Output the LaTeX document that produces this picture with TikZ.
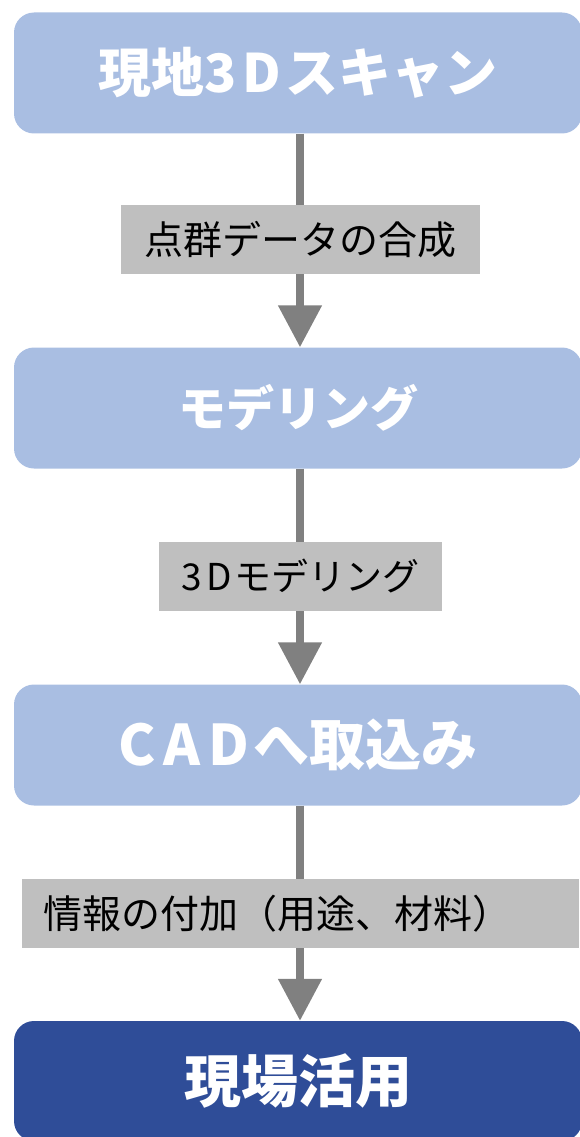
\documentclass[tikz,border=0pt]{standalone}
\usepackage{fontspec}
\newfontfamily\jp{Noto Sans CJK JP}
\usetikzlibrary{arrows.meta}
\definecolor{boxblue}{HTML}{A9BEE2}
\definecolor{darkblue}{HTML}{2F4D98}
\definecolor{labelgray}{HTML}{BFBFBF}
\definecolor{arrowgray}{HTML}{808080}
\tikzset{
  stepbox/.style={draw=none, fill=boxblue, rounded corners=20pt, minimum width=568pt, minimum height=121pt, inner sep=0pt, text=white, font=\jp\bfseries\fontsize{53}{60}\selectfont},
  lastbox/.style={stepbox, fill=darkblue},
  labelbox/.style={fill=labelgray, minimum height=69pt, inner sep=0pt, text=black, font=\jp\fontsize{39}{44}\selectfont},
  flowarrow/.style={draw=arrowgray, line width=8pt, -{Triangle[width=42pt,length=42pt]}, arrowgray}
}
\begin{document}
\begin{tikzpicture}[x=1pt,y=-1pt]
\useasboundingbox (0,0) rectangle (579,1137);
\node[stepbox] (s1) at (298,73) {現地3\hspace{6pt}D\hspace{4pt}スキャン};
\node[stepbox, font=\jp\bfseries\fontsize{48}{56}\selectfont] (s2) at (298,408) {モデリング};
\node[stepbox, font=\jp\bfseries\fontsize{56}{62}\selectfont] (s3) at (298,745) {C\hspace{8pt}A\hspace{8pt}D\hspace{4pt}へ取込み};
\node[lastbox, minimum height=120pt, font=\jp\bfseries\fontsize{57}{62}\selectfont] (s4) at (298,1081) {現場活用};
\draw[flowarrow] (s1.south -| 300,0) -- (s2.north -| 300,0);
\draw[flowarrow] (s2.south -| 300,0) -- (s3.north -| 300,0);
\draw[flowarrow] (s3.south -| 300,0) -- (s4.north -| 300,0);
\node[labelbox, minimum width=359pt] (l1) at (300.5,239.5) {点群データの合成};
\node[labelbox, minimum width=283pt, text width=283pt, align=left, font=\jp\fontsize{37}{44}\selectfont] (l2) at (300.5,576.5) {\hspace*{22pt}3\hspace{5pt}D\hspace{3pt}モデリング};
\node[labelbox, minimum width=557pt, text width=557pt, align=left] (l3) at (300.5,913.5) {\hspace*{21pt}情報の付加（用途、材料）};
\end{tikzpicture}
\end{document}
